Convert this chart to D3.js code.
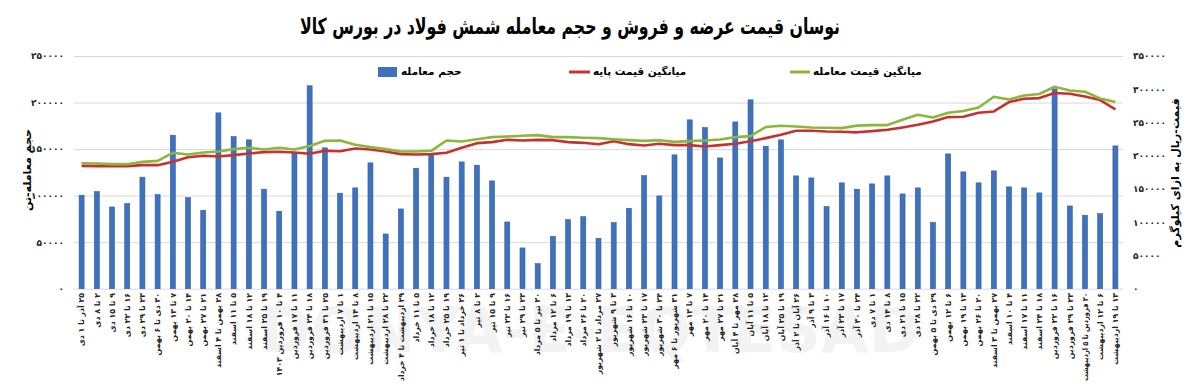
<!DOCTYPE html>
<html>
<head>
<meta charset="utf-8">
<script src="https://cdn.jsdelivr.net/npm/d3@7"></script>
<style>
  body { margin: 0; background: #fff; }
  text { font-family: "DejaVu Sans", sans-serif; }
</style>
</head>
<body>
<div id="chart-area"></div>
<script>
const WIDTH = 1200
const HEIGHT = 386

// weekly categories
const weeks = [
  "۲۵ آذر تا ۱ دی", "۲ تا ۸ دی", "۹ تا ۱۵ دی", "۱۶ تا ۲۲ دی", "۲۳ تا ۲۹ دی",
  "۳۰ دی تا ۶ بهمن", "۷ تا ۱۳ بهمن", "۱۴ تا ۲۰ بهمن", "۲۱ تا ۲۷ بهمن", "۲۸ بهمن تا ۴ اسفند",
  "۵ تا ۱۱ اسفند", "۱۲ تا ۱۸ اسفند", "۱۹ تا ۲۵ اسفند", "۴ تا ۱۰ فروردین ۱۴۰۳", "۱۱ تا ۱۷ فروردین",
  "۱۸ تا ۲۴ فروردین", "۲۵ تا ۳۱ فروردین", "۱ تا ۷ اردیبهشت", "۸ تا ۱۴ اردیبهشت", "۱۵ تا ۲۱ اردیبهشت",
  "۲۲ تا ۲۸ اردیبهشت", "۲۹ اردیبهشت تا ۴ خرداد", "۵ تا ۱۱ خرداد", "۱۲ تا ۱۸ خرداد", "۱۹ تا ۲۵ خرداد",
  "۲۶ خرداد تا ۱ تیر", "۲ تا ۸ تیر", "۹ تا ۱۵ تیر", "۱۶ تا ۲۲ تیر", "۲۳ تا ۲۹ تیر",
  "۳۰ تیر تا ۵ مرداد", "۶ تا ۱۲ مرداد", "۱۳ تا ۱۹ مرداد", "۲۰ تا ۲۶ مرداد", "۲۷ مرداد تا ۲ شهریور",
  "۳ تا ۹ شهریور", "۱۰ تا ۱۶ شهریور", "۱۷ تا ۲۳ شهریور", "۲۴ تا ۳۰ شهریور", "۳۱ شهریور تا ۶ مهر",
  "۷ تا ۱۳ مهر", "۱۴ تا ۲۰ مهر", "۲۱ تا ۲۷ مهر", "۲۸ مهر تا ۴ آبان", "۵ تا ۱۱ آبان",
  "۱۲ تا ۱۸ آبان", "۱۹ تا ۲۵ آبان", "۲۶ آبان تا ۲ آذر", "۳ تا ۹ آذر", "۱۰ تا ۱۶ آذر",
  "۱۷ تا ۲۳ آذر", "۲۴ تا ۳۰ آذر", "۱ تا ۷ دی", "۸ تا ۱۴ دی", "۱۵ تا ۲۱ دی",
  "۲۲ تا ۲۸ دی", "۲۹ دی تا ۵ بهمن", "۶ تا ۱۲ بهمن", "۱۳ تا ۱۹ بهمن", "۲۰ تا ۲۶ بهمن",
  "۲۷ بهمن تا ۳ اسفند", "۴ تا ۱۰ اسفند", "۱۱ تا ۱۷ اسفند", "۱۸ تا ۲۴ اسفند", "۱۶ تا ۲۲ فروردین",
  "۲۳ تا ۲۹ فروردین", "۳۰ فروردین تا ۵ اردیبهشت", "۶ تا ۱۲ اردیبهشت", "۱۳ تا ۱۹ اردیبهشت"
]

// trade volume (tons) - left axis
const volume = [
  100400, 104300, 87800, 91400, 119800, 101100, 164900, 97800, 84300, 188900,
  163400, 159900, 106900, 83200, 146000, 218000, 151300, 102600, 108300, 135200,
  58800, 85700, 129400, 143400, 119800, 136200, 132700, 115800, 71700, 43800,
  26900, 56300, 74200, 77400, 54200, 71000, 86400, 121500, 99700, 143800,
  181400, 173100, 140500, 179200, 202900, 153100, 159900, 121200, 119000, 88200,
  113700, 106900, 112600, 121200, 101800, 108300, 71400, 144800, 125500, 113700,
  126600, 109400, 108300, 102900, 214700, 88900, 78900, 80600, 153400
]

// average base price (rial/kg) - right axis
const basePrice = [
  184800, 184300, 184300, 184300, 185800, 185800, 190800, 197800, 199900, 198800,
  200900, 203300, 205400, 205900, 204800, 202900, 207400, 206800, 210800, 209300,
  206300, 202400, 201800, 202400, 204400, 211900, 218900, 220500, 223900, 222900,
  223900, 223400, 220500, 219400, 217200, 221900, 217400, 215400, 217900, 215900,
  215900, 213800, 215900, 217900, 221900, 226500, 231500, 237500, 237500, 236400,
  236000, 235200, 237000, 239000, 242500, 246500, 251500, 258100, 258600, 264600,
  266600, 280700, 285700, 286700, 294300, 293200, 289200, 283700, 269600
]

// average trade price (rial/kg) - right axis
const tradePrice = [
  188800, 188300, 187300, 187300, 190800, 192300, 204400, 201800, 204800, 206300,
  209900, 211900, 209300, 211900, 209300, 214500, 222400, 222900, 216400, 212900,
  209900, 206300, 206300, 207400, 222900, 221400, 224900, 228000, 228900, 230000,
  231000, 228000, 228000, 227000, 226500, 224900, 223400, 222400, 223400, 220900,
  221900, 222900, 224400, 228000, 229500, 243100, 245000, 244000, 242500, 242000,
  241500, 245300, 246100, 246100, 254100, 261600, 257500, 264600, 267200, 272600,
  288700, 284600, 290700, 292800, 303800, 298200, 296200, 286100, 280700
]

const volumeTicks = [0, 50000, 100000, 150000, 200000, 250000]
const priceTicks = [0, 50000, 100000, 150000, 200000, 250000, 300000, 350000]

const faDigits = s => String(s).replace(/\d/g, d => "۰۱۲۳۴۵۶۷۸۹"[d])

const svg = d3.select("#chart-area")
  .append("svg")
  .attr("width", WIDTH)
  .attr("height", HEIGHT)

// watermark
svg.append("text")
  .attr("x", 590)
  .attr("y", 352)
  .attr("text-anchor", "middle")
  .attr("font-size", "62px")
  .attr("font-weight", "bold")
  .attr("fill", "#f3f3f3")
  .text("DONYA-E-EQTESAD")

const x = d3.scaleBand()
  .domain(weeks)
  .range([74, 1123])

const yVol = d3.scaleLinear()
  .domain([0, 250000])
  .range([288.7, 56])

const yPrice = d3.scaleLinear()
  .domain([0, 350000])
  .range([288.7, 56])

// gridlines
svg.append("g")
  .attr("class", "grid")
  .attr("transform", "translate(74, 0)")
  .call(d3.axisLeft(yVol).tickValues(volumeTicks).tickSize(-1049).tickFormat(""))
  .call(g => g.select(".domain").remove())
  .selectAll("line")
  .attr("stroke", "#d9d9d9")

// left axis labels
svg.append("g")
  .attr("transform", "translate(64, 0)")
  .call(d3.axisLeft(yVol).tickValues(volumeTicks).tickSize(0).tickPadding(0).tickFormat(faDigits))
  .call(g => g.select(".domain").remove())
  .selectAll("text")
  .attr("font-family", "DejaVu Sans, sans-serif")
  .attr("font-size", "9px")
  .attr("font-weight", "bold")
  .attr("fill", "#222")

// right axis labels
svg.append("g")
  .attr("transform", "translate(1133, 0)")
  .call(d3.axisRight(yPrice).tickValues(priceTicks).tickSize(0).tickPadding(0).tickFormat(faDigits))
  .call(g => g.select(".domain").remove())
  .selectAll("text")
  .attr("font-family", "DejaVu Sans, sans-serif")
  .attr("font-size", "9px")
  .attr("font-weight", "bold")
  .attr("fill", "#222")

// x axis labels (rtl, rotated so the start sits at the top)
svg.append("g")
  .attr("transform", "translate(0, 293)")
  .call(d3.axisBottom(x).tickSize(0).tickPadding(0))
  .call(g => g.select(".domain").remove())
  .selectAll("text")
  .attr("font-family", "DejaVu Sans Condensed, DejaVu Sans, sans-serif")
  .attr("font-size", "7.8px")
  .attr("font-weight", "bold")
  .attr("fill", "#222")
  .attr("direction", "rtl")
  .attr("text-anchor", "start")
  .attr("transform", "rotate(-90)")
  .attr("x", 0)
  .attr("y", 0)
  .attr("dy", "0.35em")
  .each(function() {
    // keep the long labels inside the page
    if (this.getComputedTextLength() > 88) {
      d3.select(this).attr("textLength", 88).attr("lengthAdjust", "spacingAndGlyphs")
    }
  })

// bars
const barW = 5
svg.append("g")
  .selectAll("rect")
  .data(volume)
  .enter().append("rect")
  .attr("x", (d, i) => x(weeks[i]) + x.bandwidth() / 2 - barW / 2)
  .attr("y", d => yVol(d))
  .attr("width", barW)
  .attr("height", d => yVol(0) - yVol(d))
  .attr("fill", "#3f72bd")
  .attr("stroke", "#2f5ea6")
  .attr("stroke-width", 0.6)

const line = d3.line()
  .x((d, i) => x(weeks[i]) + x.bandwidth() / 2)
  .y(d => yPrice(d))

svg.append("path")
  .datum(basePrice)
  .attr("d", line)
  .attr("fill", "none")
  .attr("stroke", "#c8312f")
  .attr("stroke-width", 2.6)
  .attr("stroke-linejoin", "round")

svg.append("path")
  .datum(tradePrice)
  .attr("d", line)
  .attr("fill", "none")
  .attr("stroke", "#8cb63c")
  .attr("stroke-width", 2.6)
  .attr("stroke-linejoin", "round")

// legend
svg.append("rect")
  .attr("x", 378).attr("y", 67)
  .attr("width", 19).attr("height", 10)
  .attr("fill", "#3f72bd")
svg.append("text")
  .attr("x", 401).attr("y", 75)
  .attr("font-size", "10.5px").attr("font-weight", "bold")
  .attr("text-anchor", "start")
  .text("حجم معامله")

svg.append("line")
  .attr("x1", 569).attr("x2", 590).attr("y1", 72).attr("y2", 72)
  .attr("stroke", "#c8312f").attr("stroke-width", 3)
svg.append("text")
  .attr("x", 593).attr("y", 75)
  .attr("font-size", "10.5px").attr("font-weight", "bold")
  .attr("text-anchor", "start")
  .text("میانگین قیمت پایه")

svg.append("line")
  .attr("x1", 790).attr("x2", 810).attr("y1", 72).attr("y2", 72)
  .attr("stroke", "#8cb63c").attr("stroke-width", 3)
svg.append("text")
  .attr("x", 813).attr("y", 75)
  .attr("font-size", "10.5px").attr("font-weight", "bold")
  .attr("text-anchor", "start")
  .text("میانگین قیمت معامله")

// axis titles
svg.append("text")
  .attr("transform", "translate(31, 170) rotate(-90)")
  .attr("text-anchor", "middle")
  .attr("font-size", "11px").attr("font-weight", "bold")
  .text("حجم معامله-تن")

svg.append("text")
  .attr("transform", "translate(1179, 173) rotate(-90)")
  .attr("text-anchor", "middle")
  .attr("font-size", "11px").attr("font-weight", "bold")
  .text("قیمت-ریال به ازای کیلوگرم")

// title
svg.append("text")
  .attr("x", 570).attr("y", 34)
  .attr("text-anchor", "middle")
  .attr("font-size", "22px").attr("font-weight", "bold")
  .attr("textLength", 540)
  .attr("lengthAdjust", "spacingAndGlyphs")
  .text("نوسان قیمت عرضه و فروش و حجم معامله شمش فولاد در بورس کالا")
</script>
</body>
</html>
